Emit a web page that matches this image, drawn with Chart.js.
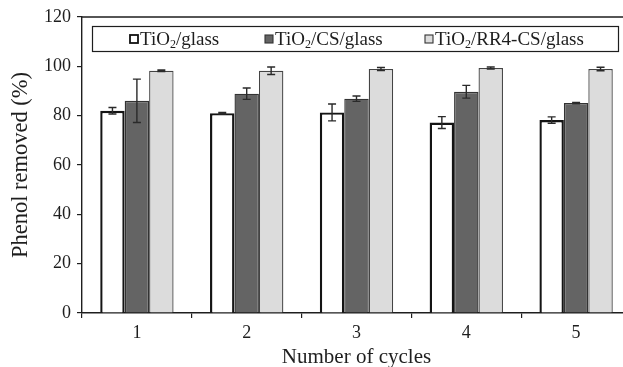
<!DOCTYPE html>
<html>
<head>
<meta charset="utf-8">
<script src="https://cdn.jsdelivr.net/npm/chart.js@4/dist/chart.umd.min.js"></script>
<style>
  html, body { margin: 0; padding: 0; background: #fff; overflow: hidden; }
  #wrap { width: 623px; height: 367px; overflow: hidden; }
  canvas { display: block; }
</style>
</head>
<body>
<div id="wrap"><canvas id="c" width="632" height="367"></canvas></div>
<script>
// Phenol removal over repeated cycles for three coatings
const cycles = ['1', '2', '3', '4', '5'];
const yTicks = [0, 20, 40, 60, 80, 100, 120];

const tioGlass      = [82.0, 81.0, 81.3, 77.2, 78.2];
const tioGlassErr   = [1.3, 0.3, 3.4, 2.4, 1.3];
const tioCs         = [86.0, 88.9, 86.9, 89.7, 85.1];
const tioCsErr      = [8.8, 2.3, 1.1, 2.6, 0.3];
const tioRr4Cs      = [98.2, 98.2, 98.9, 99.3, 98.9];
const tioRr4CsErr   = [0.3, 1.5, 0.6, 0.4, 0.7];

// legend entries: [text before subscript, subscript, text after]
const legendParts = [
  ['TiO', '2', '/glass'],
  ['TiO', '2', '/CS/glass'],
  ['TiO', '2', '/RR4-CS/glass']
];

const SERIF = '"Liberation Serif", "Times New Roman", serif';
const INK = '#1e1e1e';

const errors = [tioGlassErr, tioCsErr, tioRr4CsErr];

const errorBars = {
  id: 'errorBars',
  afterDatasetsDraw(chart) {
    const ctx = chart.ctx;
    const ys = chart.scales.y;
    ctx.save();
    ctx.strokeStyle = '#2a2a2a';
    ctx.lineWidth = 1.4;
    chart.data.datasets.forEach((ds, i) => {
      const meta = chart.getDatasetMeta(i);
      meta.data.forEach((bar, j) => {
        const v = ds.data[j], e = errors[i][j];
        const top = ys.getPixelForValue(v + e);
        const bot = ys.getPixelForValue(v - e);
        const x = bar.x, cap = 4;
        ctx.beginPath();
        ctx.moveTo(x, top); ctx.lineTo(x, bot);
        ctx.moveTo(x - cap, top); ctx.lineTo(x + cap, top);
        ctx.moveTo(x - cap, bot); ctx.lineTo(x + cap, bot);
        ctx.stroke();
      });
    });
    ctx.restore();
  }
};

const frameAndLegend = {
  id: 'frameAndLegend',
  afterDraw(chart) {
    const ctx = chart.ctx;
    const a = chart.chartArea;
    ctx.save();
    // top edge of the plot frame
    ctx.strokeStyle = INK;
    ctx.lineWidth = 1.3;
    ctx.beginPath();
    ctx.moveTo(a.left, a.top);
    ctx.lineTo(a.right, a.top);
    ctx.stroke();

    // legend box
    const bx = 92, by = 26, bw = 526, bh = 25;
    ctx.fillStyle = '#fff';
    ctx.fillRect(bx, by, bw, bh);
    ctx.strokeStyle = INK;
    ctx.lineWidth = 1.2;
    ctx.strokeRect(bx + 0.5, by + 0.5, bw, bh);

    const itemX = [130, 265, 425];
    const cy = by + bh / 2 + 0.5;
    chart.data.datasets.forEach((ds, i) => {
      const x = itemX[i];
      ctx.fillStyle = ds.backgroundColor;
      ctx.strokeStyle = i === 0 ? '#111' : '#333';
      ctx.lineWidth = i === 0 ? 1.8 : 1.1;
      ctx.fillRect(x, cy - 4, 8, 8);
      ctx.strokeRect(x, cy - 4, 8, 8);

      const [pre, sub, post] = legendParts[i];
      let tx = x + 10;
      const base = cy + 6;
      ctx.fillStyle = INK;
      ctx.textBaseline = 'alphabetic';
      ctx.textAlign = 'left';
      ctx.font = '19px ' + SERIF;
      ctx.fillText(pre, tx, base);
      tx += ctx.measureText(pre).width;
      ctx.font = '12px ' + SERIF;
      ctx.fillText(sub, tx, base + 3);
      tx += ctx.measureText(sub).width;
      ctx.font = '19px ' + SERIF;
      ctx.fillText(post, tx, base);
    });
    ctx.restore();
  }
};

new Chart(document.getElementById('c'), {
  type: 'bar',
  data: {
    labels: cycles,
    datasets: [
      { label: 'TiO₂/glass', data: tioGlass, backgroundColor: '#ffffff', borderColor: '#141414', borderWidth: 2.4 },
      { label: 'TiO₂/CS/glass', data: tioCs, backgroundColor: '#646464', borderColor: '#333333', borderWidth: 1.4 },
      { label: 'TiO₂/RR4-CS/glass', data: tioRr4Cs, backgroundColor: '#dcdcdc', borderColor: '#444444', borderWidth: 1.3 }
    ]
  },
  options: {
    responsive: false,
    animation: false,
    devicePixelRatio: 1,
    layout: { padding: { top: 17, right: 1, left: 0, bottom: 0 } },
    datasets: { bar: { categoryPercentage: 0.668, barPercentage: 1.0 } },
    plugins: { legend: { display: false }, tooltip: { enabled: false } },
    scales: {
      x: {
        afterFit(s) { s.height = 54; },
        grid: { offset: true, drawOnChartArea: false, drawTicks: true, tickLength: 5, color: INK, lineWidth: 1.2 },
        border: { color: INK, width: 1.4 },
        ticks: { color: INK, font: { family: SERIF, size: 18 }, padding: 4 },
        title: { display: true, text: 'Number of cycles', color: INK, font: { family: SERIF, size: 21, lineHeight: 0.9 }, padding: { top: 0, bottom: 0 } }
      },
      y: {
        min: 0, max: 120,
        afterFit(s) { s.width = 82; },
        afterBuildTicks(s) { s.ticks = yTicks.map(v => ({ value: v })); },
        grid: { drawOnChartArea: false, drawTicks: true, tickLength: 5, color: INK, lineWidth: 1.2 },
        border: { color: INK, width: 1.4 },
        ticks: { color: INK, font: { family: SERIF, size: 18 }, padding: 6 },
        title: { display: true, text: 'Phenol removed (%)', color: INK, font: { family: SERIF, size: 22.5 }, padding: { top: 8, bottom: 0 } }
      }
    }
  },
  plugins: [errorBars, frameAndLegend]
});
</script>
</body>
</html>
